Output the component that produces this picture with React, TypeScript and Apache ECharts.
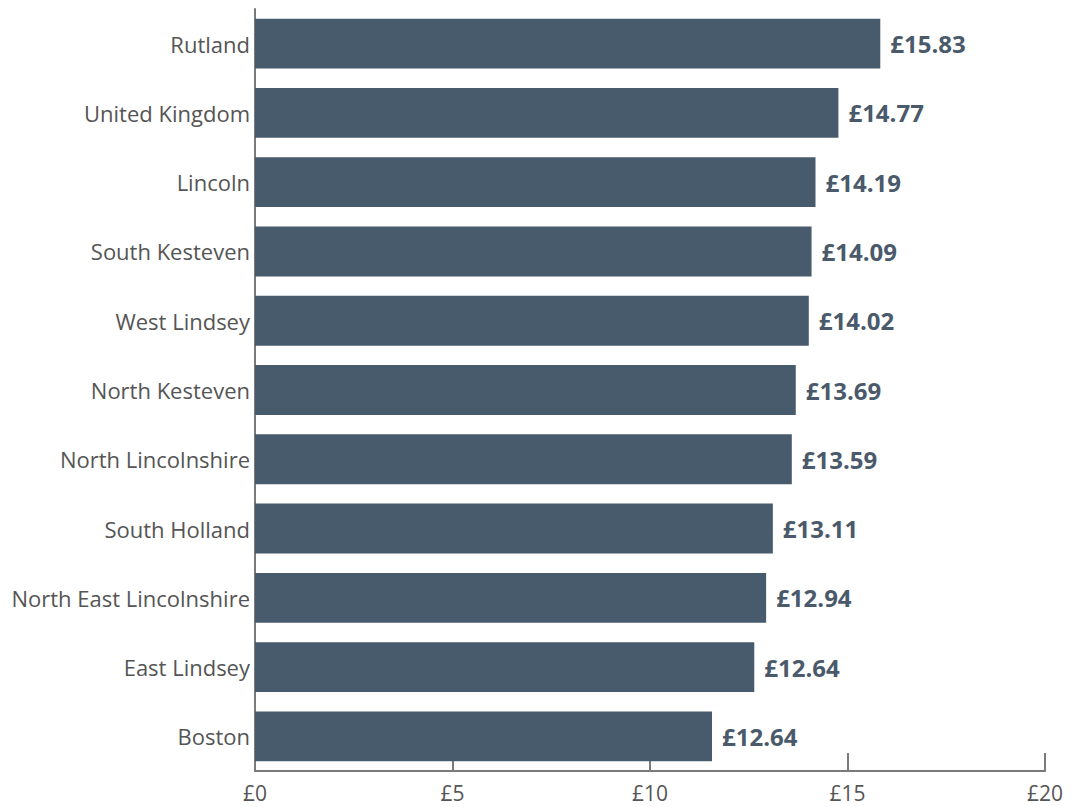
import React, { useEffect, useRef } from "react";
import * as echarts from "echarts";

const categories = [
  "Rutland",
  "United Kingdom",
  "Lincoln",
  "South Kesteven",
  "West Lindsey",
  "North Kesteven",
  "North Lincolnshire",
  "South Holland",
  "North East Lincolnshire",
  "East Lindsey",
  "Boston",
];
const values = [15.83, 14.77, 14.19, 14.09, 14.02, 13.69, 13.59, 13.11, 12.94, 12.64, 11.57];
const valueLabels = ["£15.83", "£14.77", "£14.19", "£14.09", "£14.02", "£13.69", "£13.59", "£13.11", "£12.94", "£12.64", "£12.64"];
const xTicks = [0, 5, 10, 15, 20];

export default function App() {
  const ref = useRef<HTMLDivElement>(null);
  useEffect(() => {
    if (!ref.current) return;
    const chart = echarts.init(ref.current, undefined, { renderer: "svg" });
    const font = "'Open Sans', sans-serif";
    chart.setOption({
      animation: false,
      grid: { left: 255, right: 28, top: 9, bottom: 36, containLabel: false },
      xAxis: {
        type: "value",
        min: xTicks[0],
        max: xTicks[xTicks.length - 1],
        interval: 5,
        axisLine: { show: true, lineStyle: { color: "#7a7a7a", width: 2 } },
        axisTick: { show: true, inside: true, length: 18, lineStyle: { color: "#7a7a7a", width: 2 } },
        splitLine: { show: false },
        axisLabel: {
          formatter: (v: number) => "£" + v,
          color: "#555",
          fontSize: 21,
          lineHeight: 22,
          fontFamily: font,
          margin: 11,
        },
      },
      yAxis: {
        type: "category",
        data: categories,
        inverse: true,
        axisLine: { show: true, lineStyle: { color: "#7a7a7a", width: 2 } },
        axisTick: { show: false },
        axisLabel: { color: "#555", fontSize: 22, fontFamily: font, margin: 5 },
      },
      series: [
        {
          type: "bar",
          data: values,
          barCategoryGap: "28%",
          itemStyle: { color: "#485b6c" },
          label: {
            show: true,
            position: "right",
            distance: 10,
            formatter: (p: any) => valueLabels[p.dataIndex],
            color: "#4a5a6b",
            fontSize: 24,
            fontWeight: "bold",
            fontFamily: font,
          },
        },
      ],
    });
    return () => chart.dispose();
  }, []);
  return <div ref={ref} style={{ width: 1073, height: 807, position: "absolute", left: 0, top: 0 }} />;
}
